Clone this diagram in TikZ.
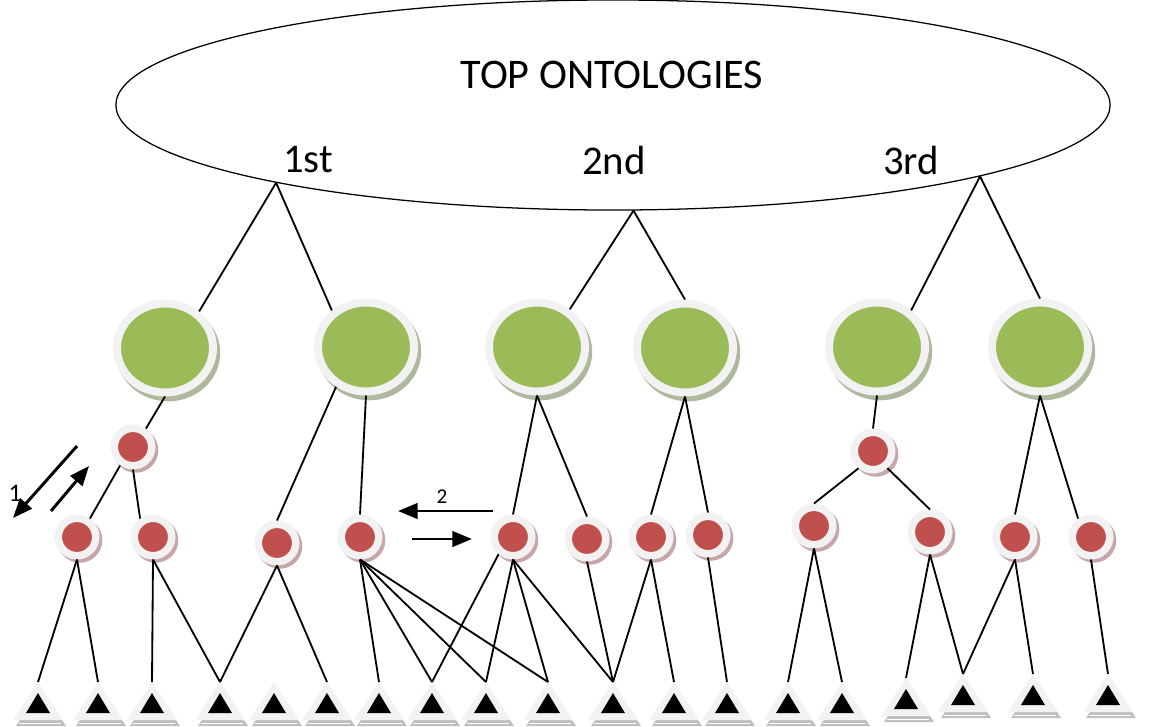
\documentclass[tikz,border=0pt]{standalone}
\usepackage{fontspec}
\setmainfont{Carlito}
\usetikzlibrary{shapes.geometric, arrows.meta}

\definecolor{leafgreen}{HTML}{9BBB59}
\definecolor{nodered}{HTML}{C0504D}
\definecolor{ringgray}{HTML}{F2F2F2}
\definecolor{greenshadow}{HTML}{AEB89D}
\definecolor{redshadow}{HTML}{C6A6A6}
\definecolor{leafshadow}{HTML}{BFBFBF}

\tikzset{
  ontonode/.style={ellipse, minimum width=2.4cm, minimum height=2.225cm,
    inner sep=0pt, fill=leafgreen, draw=ringgray, line width=0.2cm,
    preaction={transform canvas={shift={(0.08cm,-0.12cm)}},
      draw=greenshadow, fill=greenshadow}},
  conceptnode/.style={circle, minimum size=0.9375cm, inner sep=0pt,
    fill=nodered, draw=ringgray, line width=0.1875cm,
    preaction={transform canvas={shift={(0.07cm,-0.08cm)}},
      draw=redshadow, fill=redshadow}},
  link/.style={line width=1.3pt},
  flow/.style={->, line width=2.1pt},
  leaf/.pic={
    \fill[leafshadow] (3,6) -- (28,44) -- (-22,44) -- cycle;
    \draw[white, line width=0.5pt] (-19,41) -- (23,41);
    \fill[ringgray] (0,0) -- (25,38) -- (-25,38) -- cycle;
    \fill[black] (0,11) -- (12,31) -- (-12,31) -- cycle;
    \coordinate (-top) at (0,0);
  }
}

\begin{document}
\begin{tikzpicture}[x=0.025cm, y=-0.025cm, >={Triangle[length=14pt, width=11pt]}]
  \useasboundingbox (0,0) rectangle (1158,726);

  % Top ontologies
  \node[draw, ellipse, line width=0.9pt, minimum width=24.85cm,
        minimum height=5.25cm, inner sep=0pt] (top) at (613,105) {};
  \node[font=\fontsize{30}{36}\selectfont, inner sep=0pt] (title) at (612,75) {TOP ONTOLOGIES};
  \node[font=\fontsize{29}{34}\selectfont, inner sep=0pt] (first) at (308,160) {1st};
  \node[font=\fontsize{29}{34}\selectfont, inner sep=0pt] (second) at (614,160) {2nd};
  \node[font=\fontsize{29}{34}\selectfont, inner sep=0pt] (third) at (911,160) {3rd};

  % Domain ontologies
  \node[ontonode] (g1) at (165,348) {};
  \node[ontonode] (g2) at (366,347) {};
  \node[ontonode] (g3) at (537,347) {};
  \node[ontonode] (g4) at (685,348) {};
  \node[ontonode] (g5) at (877,347) {};
  \node[ontonode] (g6) at (1040,347) {};

  % Middle concepts
  \node[conceptnode] (m1) at (133,447) {};
  \node[conceptnode] (m2) at (873,451) {};

  % Lower concepts
  \node[conceptnode] (c1) at (77,537) {};
  \node[conceptnode] (c2) at (153,537) {};
  \node[conceptnode] (c3) at (277,543) {};
  \node[conceptnode] (c4) at (360,537) {};
  \node[conceptnode] (c5) at (513,537) {};
  \node[conceptnode] (c6) at (587,539) {};
  \node[conceptnode] (c7) at (651,537) {};
  \node[conceptnode] (c8) at (708,535) {};
  \node[conceptnode] (c9) at (814,526) {};
  \node[conceptnode] (c10) at (930,532) {};
  \node[conceptnode] (c11) at (1015,537) {};
  \node[conceptnode] (c12) at (1091,537) {};

  % Instances
  \pic (t1) at (38,682) {leaf};
  \pic (t2) at (98,682) {leaf};
  \pic (t3) at (152,682) {leaf};
  \pic (t4) at (220,682) {leaf};
  \pic (t5) at (274,682) {leaf};
  \pic (t6) at (327,682) {leaf};
  \pic (t7) at (379,682) {leaf};
  \pic (t8) at (432,682) {leaf};
  \pic (t9) at (486,682) {leaf};
  \pic (t10) at (548,682) {leaf};
  \pic (t11) at (613,682) {leaf};
  \pic (t12) at (674,682) {leaf};
  \pic (t13) at (727,682) {leaf};
  \pic (t14) at (788,682) {leaf};
  \pic (t15) at (842,682) {leaf};
  \pic (t16) at (906,678) {leaf};
  \pic (t17) at (963,674) {leaf};
  \pic (t18) at (1033,674) {leaf};
  \pic (t19) at (1108,674) {leaf};

  % Top to domain ontologies
  \draw[link] (top.-167.35) -- (g1.47);
  \draw[link] (top.-167.35) -- (g2.133);
  \draw[link] (top.-79.3) -- (g3.49);
  \draw[link] (top.-79.3) -- (g4.north);
  \draw[link] (top.-11.2) -- (g5.47);
  \draw[link] (top.-11.2) -- (g6.north);

  % Domain ontologies to concepts
  \draw[link] (g1.south) -- (m1.55);
  \draw[link] (g2.-127) -- (c3.north);
  \draw[link] (g2.south) -- (c4.north);
  \draw[link] (g3.south) -- (c5.north);
  \draw[link] (g3.south) -- (c6.north);
  \draw[link] (g4.south) -- (c7.north);
  \draw[link] (g4.south) -- (c8.north);
  \draw[link] (g5.south) -- (m2.north);
  \draw[link] (g6.south) -- (c11.north);
  \draw[link] (g6.south) -- (c12.125);
  \draw[link] (m1.-125) -- (c1.55);
  \draw[link] (m1.south) -- (c2.125);
  \draw[link] (m2.-130) -- (c9.north);
  \draw[link] (m2.-50) -- (c10.north);

  % Concepts to instances
  \draw[link] (c1.south) -- (t1-top);
  \draw[link] (c1.south) -- (t2-top);
  \draw[link] (c2.south) -- (t3-top);
  \draw[link] (c2.south) -- (t4-top);
  \draw[link] (c3.south) -- (t4-top);
  \draw[link] (c3.south) -- (t6-top);
  \draw[link] (c4.south) -- (t7-top);
  \draw[link] (c4.south) -- (t8-top);
  \draw[link] (c4.south) -- (t9-top);
  \draw[link] (c4.south) -- (t10-top);
  \draw[link] (c5.-130) -- (t8-top);
  \draw[link] (c5.south) -- (t9-top);
  \draw[link] (c5.south) -- (t10-top);
  \draw[link] (c5.south) -- (t11-top);
  \draw[link] (c6.south) -- (t11-top);
  \draw[link] (c7.south) -- (t11-top);
  \draw[link] (c7.south) -- (t12-top);
  \draw[link] (c8.south) -- (t13-top);
  \draw[link] (c9.south) -- (t14-top);
  \draw[link] (c9.south) -- (t15-top);
  \draw[link] (c10.south) -- (t16-top);
  \draw[link] (c10.south) -- (t17-top);
  \draw[link] (c11.south) -- (t17-top);
  \draw[link] (c11.south) -- (t18-top);
  \draw[link] (c12.south) -- (t19-top);

  % Exchange arrows
  \coordinate (up1) at (77,446);
  \coordinate (down1) at (13,518);
  \coordinate (up2) at (51,511);
  \coordinate (down2) at (89,466);
  \draw[flow] (up1) -- (down1);
  \draw[flow] (up2) -- (down2);
  \node[font=\fontsize{18}{20}\selectfont, inner sep=0pt] (one) at (15,493) {1};

  \coordinate (left1) at (493,511);
  \coordinate (left2) at (398,511);
  \coordinate (right1) at (412,539);
  \coordinate (right2) at (472,539);
  \draw[flow] (left1) -- (left2);
  \draw[flow] (right1) -- (right2);
  \node[font=\fontsize{15}{18}\selectfont, inner sep=0pt] (two) at (442,497) {2};
\end{tikzpicture}
\end{document}
